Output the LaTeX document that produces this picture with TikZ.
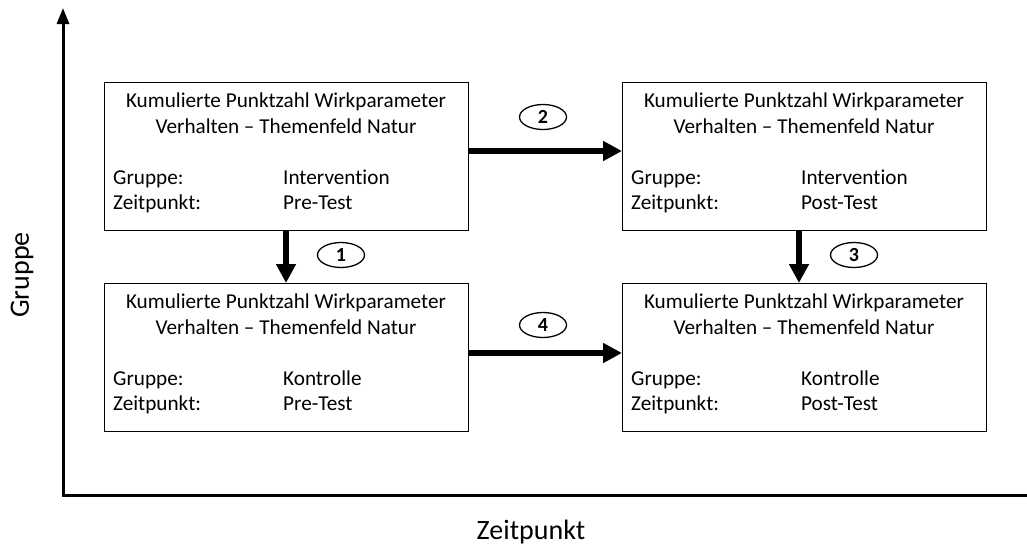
\documentclass[tikz,border=0pt]{standalone}
\usepackage{fontspec}
\setmainfont{Carlito}[Ligatures=NoCommon]
\usetikzlibrary{arrows.meta,shapes.geometric}
\begin{document}
\begin{tikzpicture}[x=1pt,y=-1pt,
  box/.style={draw=black,line width=1.2pt,minimum width=364pt,minimum height=148pt,anchor=north west,inner sep=0pt},
  txt/.style={font=\fontsize{21.2}{25}\selectfont,inner sep=0pt,anchor=base west},
  ttl/.style={font=\fontsize{21.2}{25}\selectfont,inner sep=0pt,anchor=base},
  num/.style={draw=black,line width=1.3pt,ellipse,minimum width=47pt,minimum height=25pt,inner sep=0pt,font=\fontsize{20}{22}\selectfont\bfseries},
  flow/.style={line width=6pt,-{Triangle[length=19pt,width=19pt]}},
  axis/.style={line width=3pt}]
\useasboundingbox (0,0) rectangle (1027,549);
% axes
\coordinate (origin) at (63,495);
\coordinate (ytop) at (63,8);
\coordinate (xend) at (1027,495);
\draw[axis,-{Triangle[length=16pt,width=12pt]}] (origin) -- (ytop);
\draw[axis] (61.5,495) -- (xend);
\node[font=\fontsize{28}{32}\selectfont,rotate=90] (ylab) at (22,275) {Gruppe};
\node[font=\fontsize{28}{32}\selectfont] (xlab) at (531,532) {Zeitpunkt};
% boxes
\node[box] (TL) at (104,82) {};
\node[box] (TR) at (622,82) {};
\node[box] (BL) at (104,283) {};
\node[box] (BR) at (622,283) {};
\foreach \b/\x/\y/\g/\z in {TL/104/82/Intervention/Pre-Test, TR/622/82/Intervention/Post-Test, BL/104/283/Kontrolle/Pre-Test, BR/622/283/Kontrolle/Post-Test}{
  \node[ttl] (\b t1) at (\x+182,\y+25) {Kumulierte Punktzahl Wirkparameter};
  \node[ttl] (\b t2) at (\x+182,\y+51) {Verhalten -- Themenfeld Natur};
  \node[txt] (\b g1) at (\x+9,\y+102) {Gruppe:};
  \node[txt] (\b g2) at (\x+179,\y+102) {\g};
  \node[txt] (\b z1) at (\x+9,\y+127) {Zeitpunkt:};
  \node[txt] (\b z2) at (\x+179,\y+127) {\z};
}
% connectors
\draw[flow] (TL.east |- 0,151) -- (TR.west |- 0,151);
\draw[flow] (BL.east |- 0,353) -- (BR.west |- 0,353);
\draw[flow] (TL.south -| 286,0) -- (BL.north -| 286,0);
\draw[flow] (TR.south -| 799,0) -- (BR.north -| 799,0);
% numbers
\node[num] (n2) at (543,117) {2};
\node[num] (n4) at (543,325) {4};
\node[num] (n1) at (341,255) {1};
\node[num] (n3) at (854,255) {3};
\end{tikzpicture}
\end{document}
